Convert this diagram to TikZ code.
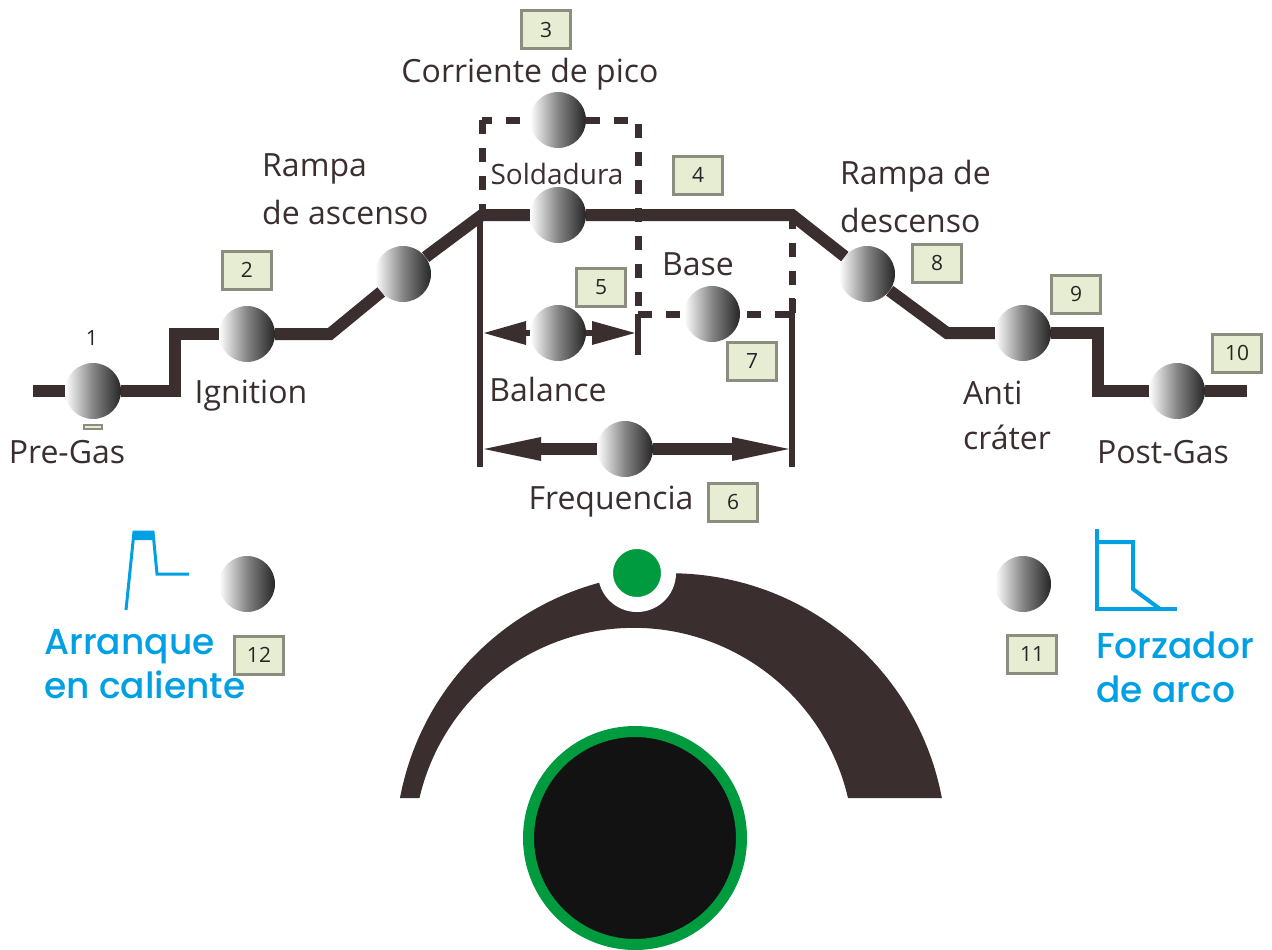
\documentclass[tikz,border=0pt]{standalone}
\usepackage{fontspec}
\setmainfont{Open Sans}
\newfontfamily\bluefont[UprightFont=* Medium]{Poppins}
\usetikzlibrary{arrows.meta}
\definecolor{panel}{HTML}{3A2E2F}
\definecolor{tagfill}{HTML}{E6EDD3}
\definecolor{tagline}{HTML}{8B8D7F}
\definecolor{cyanlabel}{HTML}{00A0E3}
\definecolor{knobgreen}{HTML}{009B3F}
\tikzset{
    knob/.style={circle, minimum size=56pt, inner sep=0pt, shade, left color=white, right color=black!85, middle color=black!48},
    tag/.style={rectangle, draw=tagline, fill=tagfill, line width=3pt, minimum width=49pt, minimum height=38pt, inner sep=0pt, font=\fontsize{21}{25}\selectfont, text=black!85},
    caption/.style={inner sep=0pt, align=left, text=panel, font=\fontsize{32}{48}\selectfont},
    bluecaption/.style={inner sep=0pt, align=left, anchor=west, text=cyanlabel, font=\bluefont\fontsize{36}{44}\selectfont},
    wave/.style={line width=12pt, color=panel, line join=miter},
    dashline/.style={line width=7pt, color=panel, dash pattern=on 14pt off 14pt},
    stem/.style={line width=6.5pt, color=panel},
    icon/.style={line width=3pt, color=cyanlabel}
}
\begin{document}
\begin{tikzpicture}[x=1pt, y=1pt]
    \useasboundingbox (0,0) rectangle (1272,-950);

    \fill [panel] (400,-798) arc (169.34:10.66:275.7) -- (848,-798) arc (13.1:166.9:220) -- cycle;
    \node [circle, minimum size=63pt, inner sep=0pt, fill=knobgreen, draw=white, line width=15pt] (dot) at (637,-573) {};
    \node [circle, minimum size=213pt, inner sep=0pt, fill=black!93, draw=knobgreen, line width=11pt] (dial) at (635,-838) {};

    \node [knob] (pregas) at (93,-391) {};
    \node [knob] (ignition) at (247,-334) {};
    \node [knob] (rampup) at (403,-274) {};
    \node [knob] (peak) at (558,-120) {};
    \node [knob] (weld) at (558,-215) {};
    \node [knob] (balance) at (558,-333) {};
    \node [knob] (freq) at (625,-449) {};
    \node [knob] (base) at (712,-314) {};
    \node [knob] (rampdown) at (867,-274) {};
    \node [knob] (crater) at (1023,-333) {};
    \node [knob] (postgas) at (1177,-391) {};
    \node [knob] (hotstart) at (247,-584) {};
    \node [knob] (force) at (1023,-584) {};

    \coordinate (start) at (33,-391);
    \coordinate (step1) at (175,-391);
    \coordinate (step2) at (175,-334);
    \coordinate (foot1) at (330,-334);
    \coordinate (top1) at (482,-215);
    \coordinate (top2) at (792,-215);
    \coordinate (foot2) at (947,-333);
    \coordinate (step3) at (1098,-333);
    \coordinate (step4) at (1098,-391);
    \coordinate (end) at (1247,-391);
    \coordinate (box1) at (482,-120);
    \coordinate (box2) at (638,-120);
    \coordinate (box3) at (638,-314);
    \coordinate (box4) at (792,-314);
    \coordinate (stemtop) at (480,-215);
    \coordinate (leftfoot) at (480,-467);
    \coordinate (rightfoot) at (792,-467);
    \coordinate (rightjoin) at (792,-298);
    \coordinate (midstem) at (638,-355);
    \coordinate (balleft) at (484,-333);
    \coordinate (balright) at (635,-333);
    \coordinate (freqleft) at (484,-449);
    \coordinate (freqright) at (789,-449);

    \path [draw, dashline] (box1) -- (top1);
    \path [draw, dashline, dash phase=4pt] (box1) -- (peak);
    \path [draw, dashline] (peak) -- (box2) -- (box3);
    \path [draw, dashline] (box3) -- (base);
    \path [draw, dashline, dash phase=21pt] (base) -- (box4);
    \path [draw, dashline] (top2) -- (box4);
    \path [draw, wave] (start) -- (pregas);
    \path [draw, wave] (pregas) -- (step1) -- (step2) -- (ignition);
    \path [draw, wave] (ignition) -- (foot1) -- (rampup);
    \path [draw, wave] (rampup) -- (top1) -- (weld);
    \path [draw, wave] (weld) -- (top2) -- (rampdown);
    \path [draw, wave] (rampdown) -- (foot2) -- (crater);
    \path [draw, wave] (crater) -- (step3) -- (step4) -- (postgas);
    \path [draw, wave] (postgas) -- (end);
    \path [draw, stem] (stemtop) -- (leftfoot);
    \path [draw, stem] (rightjoin) -- (rightfoot);
    \path [draw, stem] (box3) -- (midstem);
    \path [draw, stem, -{Triangle[length=42pt, width=24pt, line width=0pt]}] (balance) -- (balleft);
    \path [draw, stem, -{Triangle[length=43pt, width=24pt, line width=0pt]}] (balance) -- (balright);
    \path [draw, wave, -{Triangle[length=57pt, width=24pt, line width=0pt]}] (freq) -- (freqleft);
    \path [draw, wave, -{Triangle[length=57pt, width=24pt, line width=0pt]}] (freq) -- (freqright);

    \node [tag] (t2) at (247,-270) {2};
    \node [tag] (t3) at (546,-30) {3};
    \node [tag] (t4) at (698,-175) {4};
    \node [tag] (t5) at (601,-287) {5};
    \node [tag] (t6) at (733,-502) {6};
    \node [tag] (t7) at (752,-361) {7};
    \node [tag] (t8) at (937,-263) {8};
    \node [tag] (t9) at (1076,-294) {9};
    \node [tag] (t10) at (1237,-353) {10};
    \node [tag] (t11) at (1032,-654) {11};
    \node [tag] (t12) at (259,-655) {12};
    \node [tag, minimum width=18pt, minimum height=4pt, line width=2pt] (t1) at (93,-427) {};
    \node [inner sep=0pt, font=\fontsize{21}{25}\selectfont, text=black!85] (n1) at (92,-338) {1};

    \node [caption] (lpregas) at (67,-452) {Pre-Gas};
    \node [caption] (lignition) at (251,-396) {Ignition};
    \node [caption, anchor=west] (lrampup) at (262,-189) {Rampa\\de ascenso};
    \node [caption] (lpeak) at (530,-74) {Corriente de pico};
    \node [caption, font=\fontsize{28}{32}\selectfont] (lweld) at (557,-174) {Soldadura};
    \node [caption] (lbase) at (698,-264) {Base};
    \node [caption] (lbalance) at (548,-389) {Balance};
    \node [caption] (lfreq) at (611,-502) {Frequencia};
    \node [caption, anchor=west] (lrampdown) at (840,-196) {Rampa de\\descenso};
    \node [caption, anchor=west, font=\fontsize{32}{45}\selectfont] (lcrater) at (963,-415) {Anti\\cráter};
    \node [caption] (lpostgas) at (1163,-452) {Post-Gas};
    \node [bluecaption] (lhot) at (44,-664) {Arranque\\en caliente};
    \node [bluecaption] (lforce) at (1096,-667) {Forzador\\de arco};

    \fill [cyanlabel] (134,-531) -- (153,-531) -- (154,-540) -- (133,-540) -- cycle;
    \draw [icon] (126,-610) -- (134,-532) -- (153,-532) -- (157,-574) -- (189,-574);
    \draw [icon, line width=4pt] (1097,-529) -- (1097,-609) -- (1177,-609);
    \draw [icon, line width=4pt] (1097,-542) -- (1133,-542) -- (1133,-589) -- (1160,-609);
\end{tikzpicture}
\end{document}
